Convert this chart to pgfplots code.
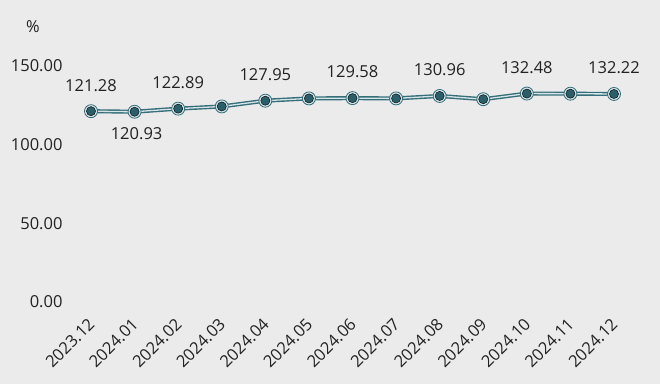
\documentclass[border=0pt]{standalone}
\usepackage{pgfplots}
\pgfplotsset{compat=1.18}
\usepackage{fontspec}
\setmainfont{Open Sans}
\definecolor{bg}{HTML}{EBEBEB}
\definecolor{lineteal}{HTML}{336E7A}
\definecolor{dotc}{HTML}{2A5F6A}
\definecolor{ringc}{HTML}{D8E5E8}
\definecolor{txt}{HTML}{222222}
\begin{document}
\begin{tikzpicture}
\fill[bg] (0,0) rectangle (660pt,384pt);
\node[font=\fontsize{16.5}{19}\selectfont, text=txt] at (33pt,357pt) {\%};
\begin{axis}[
  at={(91pt,82pt)}, anchor=south west, scale only axis,
  width=523pt, height=236pt,
  xmin=0, xmax=12, ymin=0, ymax=150, clip=false,
  axis line style={draw=none}, major tick length=0pt,
  xtick={0,...,12},
  xticklabels={2023.12,2024.01,2024.02,2024.03,2024.04,2024.05,2024.06,2024.07,2024.08,2024.09,2024.10,2024.11,2024.12},
  ytick={0,50,100,150},
  /pgf/number format/assume math mode=true,
  /pgf/number format/.cd, fixed, fixed zerofill, precision=2, /pgfplots/.cd,
  ticklabel style={font=\fontsize{16.5}{19}\selectfont, text=txt},
  yticklabel style={xshift=-25pt},
  xticklabel style={yshift=-17pt, xshift=3pt, rotate=45, anchor=east},
  nodes near coords style={font=\fontsize{16.5}{19}\selectfont, text=txt, anchor=center},
]
\addplot[draw=lineteal, line width=1.4pt, double=ringc, double distance=1.3pt] coordinates {
(0,121.28) (1,120.93) (2,122.89) (3,124.3) (4,127.95) (5,129.4) (6,129.58) (7,129.4) (8,130.96) (9,128.9) (10,132.48) (11,132.4) (12,132.22)};
\addplot[only marks, mark=*, mark size=6.5pt, mark options={draw=lineteal, line width=0.8pt, fill=ringc}] coordinates {
(0,121.28) (1,120.93) (2,122.89) (3,124.3) (4,127.95) (5,129.4) (6,129.58) (7,129.4) (8,130.96) (9,128.9) (10,132.48) (11,132.4) (12,132.22)};
\addplot[only marks, mark=*, mark size=4.6pt, mark options={draw=none, fill=dotc}] coordinates {
(0,121.28) (1,120.93) (2,122.89) (3,124.3) (4,127.95) (5,129.4) (6,129.58) (7,129.4) (8,130.96) (9,128.9) (10,132.48) (11,132.4) (12,132.22)};
\addplot[draw=none, mark=none, point meta=explicit symbolic, nodes near coords, nodes near coords style={yshift=26pt}] coordinates {
(0,121.28) [121.28] (2,122.89) [122.89] (4,127.95) [127.95] (6,129.58) [129.58] (8,130.96) [130.96] (10,132.48) [132.48] (12,132.22) [132.22]};
\addplot[draw=none, mark=none, point meta=explicit symbolic, nodes near coords, nodes near coords style={yshift=-22pt, xshift=2pt}] coordinates {
(1,120.93) [120.93]};
\end{axis}
\end{tikzpicture}
\end{document}
